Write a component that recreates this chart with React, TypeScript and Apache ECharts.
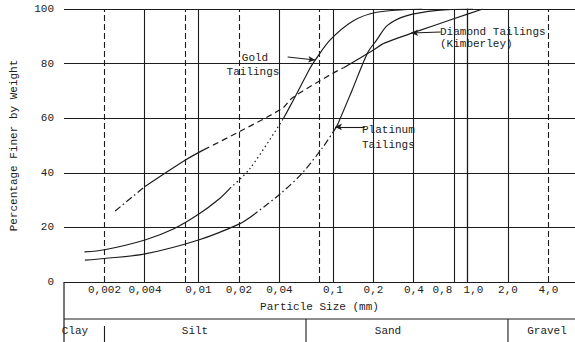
import React, { useEffect, useRef } from "react";
import * as echarts from "echarts";

const FONT = "'Liberation Mono', 'DejaVu Sans Mono', monospace";
const INK = "#1c1c1c";

// axis definitions
const xMin = 0.001;
const xMax = 6.3;
const yTicks = [0, 20, 40, 60, 80, 100];
const xTickValues = [0.002, 0.004, 0.01, 0.02, 0.04, 0.1, 0.2, 0.4, 0.8, 1.0, 2.0, 4.0];
const xTickText = ["0,002", "0,004", "0,01", "0,02", "0,04", "0,1", "0,2", "0,4", "0,8", "1,0", "2,0", "4,0"];
const gridSolid = [0.004, 0.01, 0.04, 0.1, 0.2, 0.4, 0.8, 1.0, 2.0];
const gridDashed = [0.002, 0.008, 0.02, 0.08, 4.0];

// soil classes (boundaries in mm)
const classNames = ["Clay", "Silt", "Sand", "Gravel"];
const classBounds = [0.002, 0.063, 2.0];

// Gold Tailings
const goldSolidLow = [[0.00142, 11], [0.002, 11.8], [0.004, 15.4], [0.0065, 19.4], [0.01, 24.8], [0.0143, 30.5], [0.0172, 34.4]];
const goldDotted = [[0.0172, 34.4], [0.0241, 41.5], [0.0429, 60]];
const goldSolidHigh = [[0.0429, 60], [0.0508, 66.7], [0.0678, 78.5], [0.0737, 81.3], [0.095, 88.6], [0.14, 95.5], [0.211, 98.8], [0.46, 100]];

// Platinum Tailings
const platSolidLow = [[0.00143, 8], [0.002, 8.6], [0.004, 10.3], [0.01, 15.4], [0.02, 21.2], [0.025, 24.2]];
const platDashed = [[0.025, 24.2], [0.0406, 32.3], [0.0588, 39.8], [0.083, 49], [0.1035, 56]];
const platSolidHigh = [[0.1035, 56], [0.1089, 58], [0.138, 70], [0.181, 84], [0.211, 88.6], [0.254, 94], [0.35, 97.5], [0.6, 99.5], [1.1, 100]];

// Diamond Tailings (Kimberley)
const diaDashLow = [[0.0024, 26], [0.004, 35]];
const diaSolidMid = [[0.004, 35], [0.008, 44.7], [0.011, 48.5]];
const diaDashMid = [[0.011, 48.5], [0.02, 55], [0.0422, 63.7], [0.05, 67.5], [0.1, 76.5], [0.12, 78.5]];
const diaSolidHigh = [[0.12, 78.5], [0.2, 85], [0.241, 87.5], [0.41, 91.6], [0.8, 96.5], [1.3, 100]];

// annotation arrows: [from, to] in data units
const goldArrow = [[0.046, 82.4], [0.0737, 81.3]];
const platArrow = [[0.172, 56.8], [0.1035, 56.8]];
const diaArrow = [[0.633, 91.6], [0.381, 91.2]];

const L = (v: number) => Math.log10(v);
const toXY = (arr: number[][]) => arr.map(([x, y]) => [L(x), y]);

function lineSeries(data: number[][], type: any) {
  return {
    type: "line",
    data: toXY(data),
    smooth: 0.3,
    symbol: "none",
    silent: true,
    lineStyle: { color: INK, width: 1.2, type },
  };
}

function arrowLine(a: number[][]) {
  return [
    { coord: [L(a[0][0]), a[0][1]] },
    { coord: [L(a[1][0]), a[1][1]] },
  ];
}

export default function App() {
  const ref = useRef<HTMLDivElement>(null);
  useEffect(() => {
    if (!ref.current) return;
    const chart = echarts.init(ref.current, null, { renderer: "svg" });
    const dotted = [1.5, 3];
    const dashed = [6, 4];
    const dashDot = [7, 3, 1.5, 3];

    const vLines = [
      ...gridSolid.map((v) => ({ xAxis: L(v), lineStyle: { type: "solid" } })),
      ...gridDashed.map((v) => ({ xAxis: L(v), lineStyle: { type: [6, 3] } })),
    ];

    const series: any[] = [
      {
        type: "line",
        data: [],
        silent: true,
        markLine: {
          silent: true,
          symbol: ["none", "none"],
          label: { show: false },
          lineStyle: { color: INK, width: 1.1 },
          data: vLines,
        },
      },
      {
        type: "line",
        data: [],
        silent: true,
        markLine: {
          silent: true,
          symbol: ["none", "arrow"],
          symbolSize: [5, 7],
          label: { show: false },
          lineStyle: { color: INK, width: 1.1, type: "solid" },
          data: [arrowLine(goldArrow), arrowLine(platArrow), arrowLine(diaArrow)],
        },
      },
      lineSeries(goldSolidLow, "solid"),
      lineSeries(goldDotted, dotted),
      lineSeries(goldSolidHigh, "solid"),
      lineSeries(platSolidLow, "solid"),
      lineSeries(platDashed, dashDot),
      lineSeries(platSolidHigh, "solid"),
      lineSeries(diaDashLow, dashDot),
      lineSeries(diaSolidMid, "solid"),
      lineSeries(diaDashMid, dashed),
      lineSeries(diaSolidHigh, "solid"),
    ];

    const textStyle = { fontFamily: FONT, fontSize: 11, fill: "#222" };

    chart.setOption({
      animation: false,
      backgroundColor: "#fff",
      grid: { left: 58, right: 0, top: 9, bottom: 60, containLabel: false },
      xAxis: {
        type: "value",
        min: L(xMin),
        max: L(xMax),
        name: "Particle Size (mm)",
        nameLocation: "middle",
        nameGap: 19,
        nameTextStyle: { fontFamily: FONT, fontSize: 11, color: "#222" },
        axisLine: { show: false },
        axisTick: { show: false },
        splitLine: { show: false },
        axisLabel: {
          customValues: xTickValues.map(L),
          margin: 2,
          fontFamily: FONT,
          fontSize: 11,
          color: "#222",
          formatter: (val: number) => {
            let idx = 0;
            let best = Infinity;
            xTickValues.forEach((t, i) => {
              const d = Math.abs(L(t) - val);
              if (d < best) {
                best = d;
                idx = i;
              }
            });
            const t = xTickText[idx];
            if (t === "0,8") return "{l|" + t + "}";
            if (t === "1,0") return "{r|" + t + "}";
            return t;
          },
          rich: {
            l: { fontFamily: FONT, fontSize: 11, color: "#222", padding: [0, 24, 0, 0] },
            r: { fontFamily: FONT, fontSize: 11, color: "#222", padding: [0, 0, 0, 12] },
          },
        },
      },
      yAxis: {
        type: "value",
        min: yTicks[0],
        max: yTicks[yTicks.length - 1],
        interval: 20,
        name: "Percentage Finer by Weight",
        nameLocation: "middle",
        nameGap: 45,
        nameRotate: 90,
        nameTextStyle: { fontFamily: FONT, fontSize: 11, color: "#222" },
        axisLine: { show: true, lineStyle: { color: INK, width: 1.2 } },
        axisTick: { show: false },
        axisLabel: { fontFamily: FONT, fontSize: 11, color: "#222", margin: 10 },
        splitLine: { show: true, lineStyle: { color: INK, width: 1.2 } },
      },
      series,
    });

    // derived layout: soil class band below the axis
    const px = (v: number) => chart.convertToPixel({ xAxisIndex: 0 } as any, L(v)) as number;
    const left = px(xMin);
    const right = 575;
    const bandTop = 319;
    const bottom = 342;
    const bx = classBounds.map(px);
    const edges = [left, ...bx, right];
    const graphic: any[] = [
      { type: "line", shape: { x1: left, y1: 282, x2: left, y2: bottom }, style: { stroke: INK, lineWidth: 1.2 } },
      { type: "line", shape: { x1: left, y1: bandTop, x2: right, y2: bandTop }, style: { stroke: INK, lineWidth: 1.2 } },
      { type: "line", shape: { x1: bx[0], y1: 326, x2: bx[0], y2: bottom }, style: { stroke: INK, lineWidth: 1.1 } },
      { type: "line", shape: { x1: bx[1], y1: bandTop, x2: bx[1], y2: bottom }, style: { stroke: INK, lineWidth: 1.1 } },
      { type: "line", shape: { x1: bx[2], y1: bandTop, x2: bx[2], y2: bottom }, style: { stroke: INK, lineWidth: 1.1 } },
    ];
    const classX = [75, 195, 388, 547];
    classNames.forEach((n, i) => {
      graphic.push({
        type: "text",
        x: classX[i] ?? (edges[i] + edges[i + 1]) / 2,
        y: 331,
        style: { ...textStyle, text: n, align: "center", verticalAlign: "middle" },
      });
    });
    // curve labels
    graphic.push(
      { type: "text", x: 255, y: 58, style: { ...textStyle, text: "Gold", align: "center", verticalAlign: "middle" } },
      { type: "text", x: 253, y: 72, style: { ...textStyle, text: "Tailings", align: "center", verticalAlign: "middle" } },
      { type: "text", x: 362, y: 130, style: { ...textStyle, text: "Platinum", align: "left", verticalAlign: "middle" } },
      { type: "text", x: 362, y: 145, style: { ...textStyle, text: "Tailings", align: "left", verticalAlign: "middle" } },
      { type: "text", x: 440, y: 32, style: { ...textStyle, text: "Diamond Tailings", align: "left", verticalAlign: "middle" } },
      { type: "text", x: 440, y: 44, style: { ...textStyle, text: "(Kimberley)", align: "left", verticalAlign: "middle" } }
    );
    chart.setOption({ graphic });

    return () => chart.dispose();
  }, []);
  return (
    <div
      ref={ref}
      style={{ position: "fixed", left: 0, top: 0, width: 575, height: 342, background: "#fff" }}
    />
  );
}
